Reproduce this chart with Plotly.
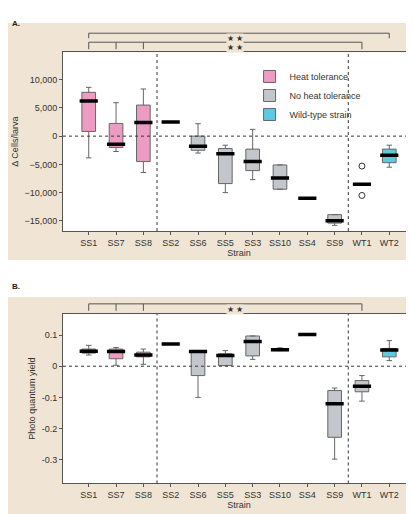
import plotly.graph_objects as go

strains = ["SS1", "SS7", "SS8", "SS2", "SS6", "SS5", "SS3", "SS10", "SS4", "SS9", "WT1", "WT2"]
heat = ["SS1", "SS7", "SS8"]
wild = ["WT2"]

# panel A: delta cells / larva
a_low = [-3850, -2720, -6450, 2490, -3000, -10000, -7700, -9400, -11000, -15800, -8500, -5500]
a_q1 = [830, -2010, -4500, 2490, -2500, -8400, -6100, -9400, -11000, -15400, -8500, -4700]
a_med = [6220, -1420, 2430, 2490, -1800, -3100, -4500, -7400, -11000, -15000, -8500, -3400]
a_q3 = [7760, 2250, 5500, 2490, 0, -2200, -2300, -5100, -11000, -13900, -8500, -2300]
a_high = [8640, 5920, 8350, 2490, 2200, -1600, 1200, -5100, -11000, -13900, -8500, -1600]
a_out_x = ["WT1", "WT1"]
a_out_y = [-5300, -10500]

# panel B: photo quantum yield
b_low = [0.036, 0.003, 0.006, 0.071, -0.100, 0.002, 0.022, 0.050, 0.102, -0.298, -0.112, 0.018]
b_q1 = [0.042, 0.024, 0.030, 0.071, -0.030, 0.002, 0.033, 0.050, 0.102, -0.228, -0.082, 0.030]
b_med = [0.048, 0.047, 0.036, 0.071, 0.047, 0.034, 0.079, 0.053, 0.102, -0.120, -0.064, 0.052]
b_q3 = [0.055, 0.055, 0.045, 0.071, 0.050, 0.040, 0.097, 0.056, 0.102, -0.078, -0.046, 0.057]
b_high = [0.067, 0.060, 0.055, 0.071, 0.050, 0.050, 0.097, 0.059, 0.102, -0.070, -0.030, 0.082]

PINK = "#ec9cc2"
GRAY = "#c3c7cc"
CYAN = "#5ec9e2"
BEIGE = "#f0e4d4"
FONT = "Liberation Sans"

groups = [("Heat tolerance", PINK, lambda s: s in heat),
          ("No heat tolerance", GRAY, lambda s: s not in heat and s not in wild),
          ("Wild-type strain", CYAN, lambda s: s in wild)]

DOM_A = [0.566, 0.914]
DOM_B = [0.075, 0.405]

fig = go.Figure()


def add_panel(low, q1, med, q3, high, xa, ya, legend):
    for name, color, test in groups:
        idx = [i for i, s in enumerate(strains) if test(s)]
        fig.add_trace(go.Box(
            x=[strains[i] for i in idx],
            lowerfence=[low[i] for i in idx], q1=[q1[i] for i in idx],
            median=[med[i] for i in idx], q3=[q3[i] for i in idx],
            upperfence=[high[i] for i in idx],
            fillcolor=color, line=dict(color="#666", width=1),
            width=0.5, whiskerwidth=0.4, name=name, showlegend=legend,
            xaxis=xa, yaxis=ya, hoverinfo="skip"))
    fig.add_trace(go.Scatter(
        x=strains, y=med, mode="markers", showlegend=False, xaxis=xa, yaxis=ya,
        marker=dict(symbol="line-ew", size=13, line=dict(color="black", width=3.5))))


add_panel(a_low, a_q1, a_med, a_q3, a_high, "x", "y", True)
fig.add_trace(go.Scatter(x=a_out_x, y=a_out_y, mode="markers", showlegend=False,
                         marker=dict(symbol="circle-open", size=6, color="#333")))
add_panel(b_low, b_q1, b_med, b_q3, b_high, "x2", "y2", False)

axis = dict(showline=True, linecolor="#555", mirror=True, showgrid=False, zeroline=False,
            ticks="outside", ticklen=3, tickcolor="#555", tickfont=dict(size=9, color="#333"))
fig.update_layout(
    width=414, height=514, margin=dict(l=55, r=7, t=0, b=0),
    paper_bgcolor="white", plot_bgcolor="white",
    font=dict(family=FONT, size=9, color="#333"),
    xaxis=dict(axis, domain=[0, 1], anchor="y", categoryorder="array", categoryarray=strains,
               title=dict(text="Strain", standoff=0, font=dict(size=9))),
    yaxis=dict(axis, domain=DOM_A, range=[-16810, 14860], tickvals=[-15000, -10000, -5000, 0, 5000, 10000],
               tickformat=",", title=dict(text="Δ Cells/larva", standoff=4, font=dict(size=9))),
    xaxis2=dict(axis, domain=[0, 1], anchor="y2", categoryorder="array", categoryarray=strains,
                title=dict(text="Strain", standoff=0, font=dict(size=9))),
    yaxis2=dict(axis, domain=DOM_B, range=[-0.376, 0.168], tickvals=[-0.3, -0.2, -0.1, 0, 0.1],
                ticktext=["-0.3", "-0.2", "-0.1", "0", "0.1"],
                title=dict(text="Photo quantum yield", standoff=4, font=dict(size=9))),
    legend=dict(x=0.53, y=0.895, xanchor="left", yanchor="top", bgcolor="rgba(0,0,0,0)",
                font=dict(size=9), tracegroupgap=2),
    boxmode="overlay",
)

# beige panel backgrounds, then white plot areas over them
for y0, y1 in [(1 - 252 / 514, 1 - 15 / 514), (0, 1 - 289 / 514)]:
    fig.add_shape(type="rect", xref="paper", yref="paper", x0=-55 / 352, x1=1 + 7 / 352,
                  y0=y0, y1=y1, fillcolor=BEIGE, line_width=0, layer="below")
for dom in [DOM_A, DOM_B]:
    fig.add_shape(type="rect", xref="paper", yref="paper", x0=0, x1=1,
                  y0=dom[0], y1=dom[1], fillcolor="white", line_width=0, layer="below")

dash = dict(color="#333", width=1, dash="dot")
for xa, ya in [("x", "y"), ("x2", "y2")]:
    for xv in [2.5, 9.5]:
        fig.add_shape(type="line", xref=xa, yref=ya + " domain", x0=xv, x1=xv, y0=0, y1=1, line=dash)
    fig.add_shape(type="line", xref=xa + " domain", yref=ya, x0=0, x1=1, y0=0, y1=0, line=dash)

# significance brackets (pixels above the plot top)
br = dict(color="#555", width=1)


def bracket(xa, ya, plot_h, top_px, drop_px, xs):
    yt = 1 + top_px / plot_h
    yb = 1 + (top_px - drop_px) / plot_h
    fig.add_shape(type="line", xref=xa, yref=ya + " domain", x0=0, x1=xs[-1], y0=yt, y1=yt, line=br)
    for xv in xs:
        fig.add_shape(type="line", xref=xa, yref=ya + " domain", x0=xv, x1=xv, y0=yt, y1=yb, line=br)
    fig.add_annotation(xref=xa, yref=ya + " domain", x=5.35, y=yt, text="★ ★", showarrow=False,
                       font=dict(size=8, color="#333"), bgcolor=BEIGE, borderpad=0)


bracket("x", "y", 179, 19, 5, [0, 11])
bracket("x", "y", 179, 10, 7, [0, 1, 2, 10])
bracket("x2", "y2", 170, 10, 7, [0, 1, 2, 10])

for txt, yp in [("A.", 1 - 9 / 514), ("B.", 1 - 278 / 514)]:
    fig.add_annotation(xref="paper", yref="paper", x=-53 / 352, y=yp, text="<b>" + txt + "</b>",
                       showarrow=False, xanchor="left", font=dict(size=8, color="#222"))

fig.write_html("out.html")
